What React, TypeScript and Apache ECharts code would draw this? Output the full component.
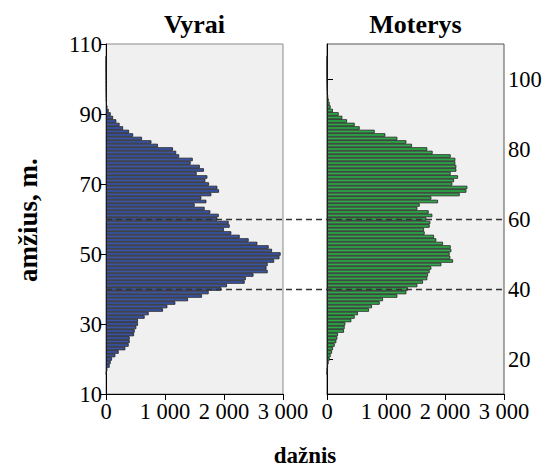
import React, { useEffect, useRef } from "react";
import * as echarts from "echarts";

// Age of each bar (years)
const ages = [
  16, 17, 18, 19, 20, 21, 22, 23, 24, 25, 26, 27, 28, 29, 30, 31, 32, 33, 34, 35,
  36, 37, 38, 39, 40, 41, 42, 43, 44, 45, 46, 47, 48, 49, 50, 51, 52, 53, 54, 55,
  56, 57, 58, 59, 60, 61, 62, 63, 64, 65, 66, 67, 68, 69, 70, 71, 72, 73, 74, 75,
  76, 77, 78, 79, 80, 81, 82, 83, 84, 85, 86, 87, 88, 89, 90, 91, 92, 93, 94, 95,
  96, 97, 98, 99, 100, 101, 102, 103, 104, 105, 106,
];

// Vyrai (men) frequency per age
const maleCounts = [
  8, 23, 62, 79, 102, 158, 215, 328, 384, 401, 401, 475, 486, 514, 542, 542, 655, 723, 966, 1040,
  1175, 1390, 1627, 1740, 1955, 2050, 2350, 2370, 2500, 2740, 2720, 2740, 2850, 2940, 2960, 2814, 2757, 2565, 2418, 2266,
  2124, 2000, 2096, 2079, 1887, 1910, 1768, 1672, 1503, 1701, 1616, 1785, 1915, 1887, 1746, 1684, 1718, 1537, 1660, 1590,
  1435, 1470, 1240, 1190, 1135, 880, 770, 610, 460, 390, 290, 230, 175, 120, 80, 45, 25, 15, 10, 8,
  6, 5, 4, 3, 3, 2, 2, 1, 1, 1, 1,
];

// Moterys (women) frequency per age
const femaleCounts = [
  2, 5, 17, 28, 45, 62, 85, 102, 130, 158, 175, 186, 288, 299, 311, 412, 469, 525, 712, 763,
  893, 949, 1192, 1345, 1373, 1531, 1627, 1700, 1712, 1740, 1768, 1938, 2136, 2090, 2079, 2107, 2096, 1966, 1853, 1814,
  1655, 1644, 1740, 1751, 1684, 1785, 1723, 1531, 1571, 1881, 1768, 2249, 2362, 2379, 2124, 2153, 2220, 2096, 2192, 2192,
  2175, 2175, 2096, 1790, 1700, 1440, 1345, 1192, 989, 808, 554, 469, 339, 260, 198, 100, 62, 45, 30, 20,
  12, 8, 5, 3, 2, 1, 0, 0, 0, 0, 0,
];

const panelTitles = ["Vyrai", "Moterys"];
const xTickValues = [0, 1000, 2000, 3000];
const leftYTicks = [10, 30, 50, 70, 90, 110];
const rightYTicks = [20, 40, 60, 80, 100];
const refLines = [40, 60];
const yTitle = "amžius, m.";
const xTitle = "dažnis";

const AGE_MIN = 10;
const AGE_MAX = 110;

const FONT = "'Liberation Serif', 'Times New Roman', serif";

const GRID_TOP = 44;
const GRID_H = 350;
const LEFT_X = 106;
const RIGHT_X = 327;
const PANEL_W = 177;

function fmt(v: number) {
  return String(v).replace(/\B(?=(\d{3})+(?!\d))/g, " ");
}

export default function App() {
  const ref = useRef<HTMLDivElement>(null);

  useEffect(() => {
    if (!ref.current) return;
    const chart = echarts.init(ref.current, undefined, { renderer: "svg" });

    const cats: string[] = [];
    for (let a = AGE_MIN; a <= AGE_MAX; a++) cats.push(String(a));

    const maleData = ages.map((a, i) => [maleCounts[i], String(a)]);
    const femaleData = ages.map((a, i) => [femaleCounts[i], String(a)]);

    const xAxisBase = (gi: number) => ({
      gridIndex: gi,
      type: "value",
      min: xTickValues[0],
      max: xTickValues[xTickValues.length - 1],
      interval: 1000,
      axisLine: { show: true, lineStyle: { color: "#000", width: 1 } },
      axisTick: { show: true, inside: false, length: 6, lineStyle: { color: "#000" } },
      axisLabel: {
        color: "#000",
        fontFamily: FONT,
        fontSize: 22.5,
        margin: 6,
        formatter: (v: number) => fmt(v),
      },
      splitLine: { show: false },
    });

    const yAxisBase = (gi: number, pos: string, ticks: number[]) => ({
      gridIndex: gi,
      type: "category",
      data: cats,
      position: pos,
      boundaryGap: false,
      axisLine: { show: true, lineStyle: { color: "#000", width: 1 } },
      axisTick: {
        show: true,
        inside: false,
        length: 6,
        interval: (_i: number, v: string) => ticks.includes(Number(v)),
        lineStyle: { color: "#000" },
      },
      axisLabel: {
        show: true,
        color: "#000",
        fontFamily: FONT,
        fontSize: 22.5,
        margin: 4,
        interval: (_i: number, v: string) => ticks.includes(Number(v)),
      },
      splitLine: { show: false },
    });

    const barStyle = (color: string) => ({
      color,
      borderColor: "#1c1c1c",
      borderWidth: 0.8,
    });

    const textStyle = (size: number) => ({
      font: `bold ${size}px ${FONT}`,
      fill: "#000",
      align: "center",
      verticalAlign: "middle",
    });

    chart.setOption({
      animation: false,
      backgroundColor: "#fff",
      grid: [
        {
          left: LEFT_X, top: GRID_TOP, width: PANEL_W, height: GRID_H,
          show: true, backgroundColor: "#f0f0f0", borderColor: "#8a8a8a", borderWidth: 1,
        },
        {
          left: RIGHT_X, top: GRID_TOP, width: PANEL_W, height: GRID_H,
          show: true, backgroundColor: "#f0f0f0", borderColor: "#555", borderWidth: 1,
        },
        {
          left: LEFT_X, top: GRID_TOP, width: RIGHT_X + PANEL_W - LEFT_X, height: GRID_H,
          show: false,
        },
      ],
      xAxis: [
        xAxisBase(0),
        xAxisBase(1),
        { gridIndex: 2, type: "value", min: 0, max: 1, show: false },
      ],
      yAxis: [
        yAxisBase(0, "left", leftYTicks),
        yAxisBase(1, "right", rightYTicks),
        { gridIndex: 2, type: "value", min: AGE_MIN, max: AGE_MAX, show: false },
      ],
      series: [
        {
          type: "bar",
          xAxisIndex: 0,
          yAxisIndex: 0,
          data: maleData,
          barCategoryGap: "0%",
          itemStyle: barStyle("#3a55a6"),
          silent: true,
        },
        {
          type: "bar",
          xAxisIndex: 1,
          yAxisIndex: 1,
          data: femaleData,
          barCategoryGap: "0%",
          itemStyle: barStyle("#2eaa48"),
          silent: true,
        },
        {
          type: "line",
          xAxisIndex: 2,
          yAxisIndex: 2,
          data: [[0, AGE_MIN]],
          showSymbol: false,
          lineStyle: { opacity: 0 },
          z: 10,
          markLine: {
            silent: true,
            symbol: "none",
            label: { show: false },
            lineStyle: { color: "#333", type: [6, 4], width: 1.3 },
            data: refLines.map((v) => ({ yAxis: v })),
            z: 10,
          },
        },
      ],
      graphic: [
        { type: "text", x: LEFT_X + PANEL_W / 2, y: 24, style: { text: panelTitles[0], ...textStyle(26) } },
        { type: "text", x: RIGHT_X + PANEL_W / 2, y: 24, style: { text: panelTitles[1], ...textStyle(26) } },
        {
          type: "text", x: 28, y: GRID_TOP + GRID_H / 2 + 1, rotation: Math.PI / 2,
          style: { text: yTitle, ...textStyle(27) },
        },
        {
          type: "text", x: (LEFT_X + RIGHT_X + PANEL_W) / 2, y: 455,
          style: { text: xTitle, ...textStyle(23) },
        },
      ],
    });

    return () => chart.dispose();
  }, []);

  return (
    <div
      ref={ref}
      style={{ width: 548, height: 470, position: "fixed", left: 0, top: 0 }}
    />
  );
}
